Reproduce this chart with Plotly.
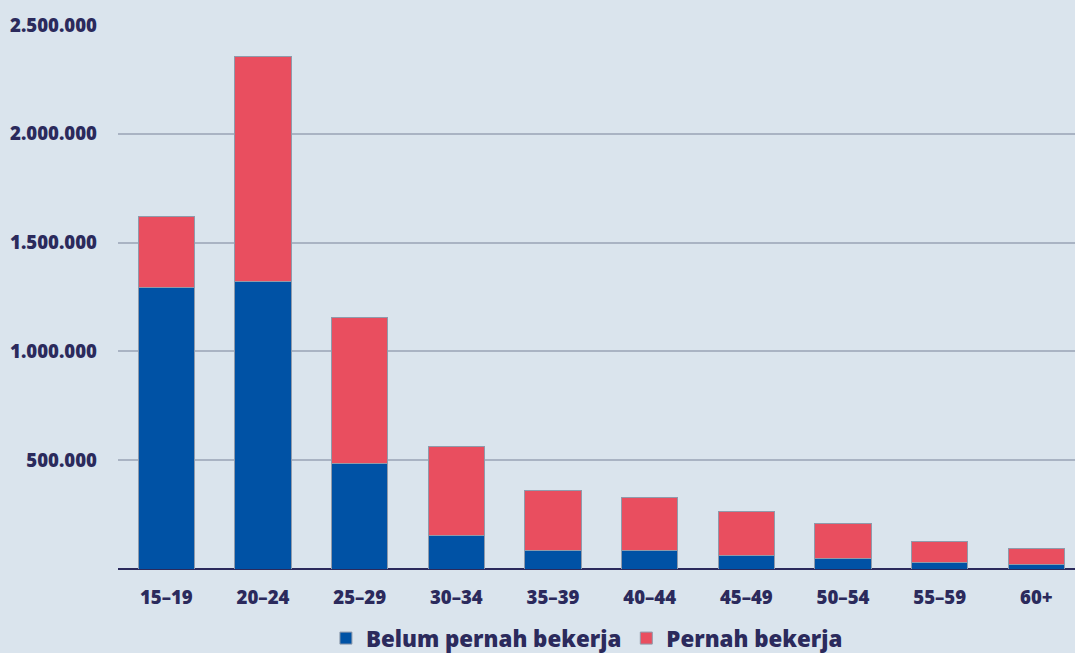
import plotly.graph_objects as go

categories = ["15–19", "20–24", "25–29", "30–34", "35–39", "40–44", "45–49", "50–54", "55–59", "60+"]
belum = [1293000, 1321000, 486000, 156000, 86000, 86000, 60000, 46000, 28000, 20000]
total = [1619000, 2353000, 1156000, 561000, 362000, 329000, 266000, 210000, 128000, 93000]
pernah = [t - b for t, b in zip(total, belum)]

y_tickvals = [500000, 1000000, 1500000, 2000000, 2500000]
y_ticktext = ["500.000", "1.000.000", "1.500.000", "2.000.000", "2.500.000"]

navy = "#2b2a5c"
font_family = "Open Sans"

fig = go.Figure()
fig.add_trace(go.Bar(
    x=categories, y=belum, name="Belum pernah bekerja",
    marker=dict(color="#0052a5", line=dict(color="#8f9aab", width=1)),
))
fig.add_trace(go.Bar(
    x=categories, y=pernah, name="Pernah bekerja",
    marker=dict(color="#e94e5f", line=dict(color="#8f9aab", width=1)),
))

fig.update_layout(
    barmode="stack",
    bargap=0.42,
    width=1075, height=653,
    margin=dict(l=118, r=0, t=25, b=84, autoexpand=False),
    paper_bgcolor="#dae4ed",
    plot_bgcolor="#dae4ed",
    font=dict(family=font_family, color=navy, size=18.6, weight=800),
    showlegend=True,
    legend=dict(
        orientation="h", x=0.49, xanchor="center", y=-0.127, yanchor="middle",
        font=dict(size=22.3, color=navy, family=font_family, weight=800),
        itemwidth=30, traceorder="normal", bgcolor="rgba(0,0,0,0)",
    ),
    xaxis=dict(
        range=[-0.5, 9.4],
        showgrid=False, showline=False, ticks="",
        tickfont=dict(size=18.6, color=navy, family=font_family, weight=800),
        ticklabelstandoff=15, automargin=False,
    ),
    yaxis=dict(
        range=[0, 2500000],
        tickvals=y_tickvals, ticktext=y_ticktext,
        showgrid=True, gridcolor="#a9b3c3", gridwidth=1.5,
        zeroline=True, zerolinecolor=navy, zerolinewidth=2,
        showline=False, ticks="",
        tickfont=dict(size=18.6, color=navy, family=font_family, weight=800),
        ticklabelstandoff=20, automargin=False,
    ),
)

fig.write_html("out.html", config={"displayModeBar": False})

with open("out.html", "r", encoding="utf-8") as f:
    html = f.read()
html = html.replace("<head>", "<head><style>html,body{margin:0;padding:0;overflow:hidden;}</style>", 1)
with open("out.html", "w", encoding="utf-8") as f:
    f.write(html)
